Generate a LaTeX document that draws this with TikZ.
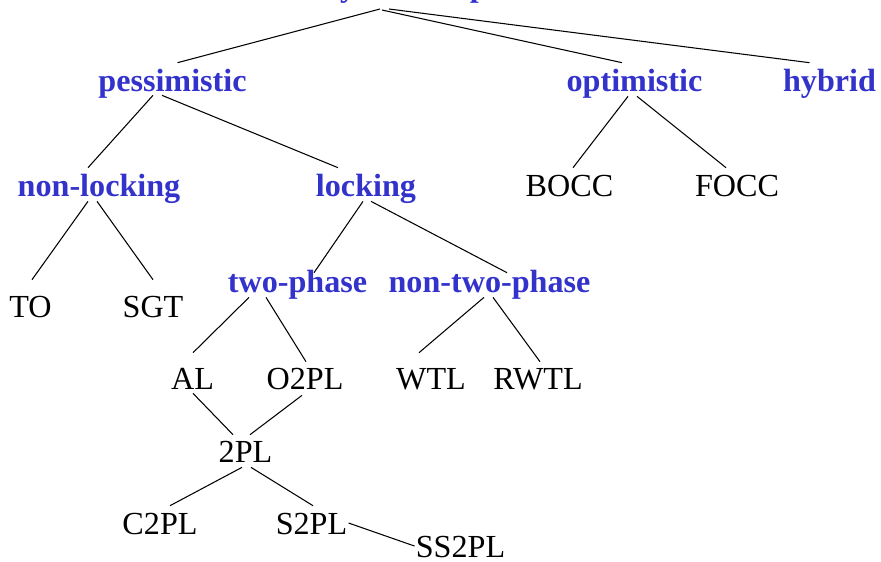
\documentclass[tikz,border=0pt]{standalone}
\usepackage{fontspec}
\setmainfont{Liberation Serif}
\usepackage{tikz}
\definecolor{catblue}{HTML}{3333CC}

\begin{document}
\begin{tikzpicture}[x=0.02cm, y=-0.02cm,
    % every label sits on its baseline, with a fixed height for the anchors
    every node/.style = {
        anchor=base,
        inner sep=0pt,
        text height=12.5pt,
        text depth=0pt,
        font=\fontsize{18.3}{22}\selectfont
    },
    category/.style = {
        text=catblue,
        font=\fontsize{18.3}{22}\selectfont\bfseries
    },
    method/.style = {
        text=black
    },
    branch/.style = {
        draw=black,
        line width=0.6pt
    }
]
\useasboundingbox (0,0) rectangle (881,561);

% root (only its descenders show at the top edge)
\node[category, anchor=base west] (root) at (185,-4) {concurrency control protocols};

% first level
\node[category] (pess) at (172.5,91) {pessimistic};
\node[category] (opt) at (634.5,91) {optimistic};
\node[category] (hyb) at (829.5,91) {hybrid};

% second level
\node[category] (nonlock) at (99,196) {non-locking};
\node[category] (lock) at (366,196) {locking};
\node[method] (bocc) at (569.5,196) {BOCC};
\node[method] (focc) at (737,196) {FOCC};

% under non-locking and locking
\node[method] (to) at (30.5,317) {TO};
\node[method] (sgt) at (153,317) {SGT};
\node[category] (twoph) at (297.5,292) {two-phase};
\node[category] (nontwoph) at (489.5,292) {non-two-phase};

% locking protocols
\node[method] (al) at (192.5,389) {AL};
\node[method] (otpl) at (305,389) {O2PL};
\node[method] (wtl) at (431,389) {WTL};
\node[method] (rwtl) at (538,389) {RWTL};

\node[method] (tpl) at (245.5,462) {2PL};
\node[method] (ctpl) at (160,534) {C2PL};
\node[method] (stpl) at (311.5,534) {S2PL};
\node[method] (sstpl) at (460.5,557) {SS2PL};

% branches
\draw[branch] ([shift={(195,13)}]root.base west) -- ([shift={(5,-6)}]pess.north);
\draw[branch] ([shift={(197,14)}]root.base west) -- ([shift={(-12.5,-6)}]opt.north);
\draw[branch] ([shift={(204,13)}]root.base west) -- ([shift={(-20,-6)}]hyb.north);

\draw[branch] ([shift={(-19.5,4)}]pess.south) -- ([shift={(-11,-6)}]nonlock.north);
\draw[branch] ([shift={(-10.5,4)}]pess.south) -- ([shift={(-28,-6)}]lock.north);
\draw[branch] ([shift={(-6.5,5)}]opt.south) -- ([shift={(3.5,-6)}]bocc.north);
\draw[branch] ([shift={(2.5,5)}]opt.south) -- ([shift={(-11,-6)}]focc.north);

\draw[branch] ([shift={(-11,5)}]nonlock.south) -- ([shift={(1.5,-15)}]to.north);
\draw[branch] ([shift={(-2,5)}]nonlock.south) -- ([shift={(0,-15)}]sgt.north);
\draw[branch] ([shift={(-3,5)}]lock.south) -- ([shift={(16.5,3)}]twoph.north);
\draw[branch] ([shift={(5,5)}]lock.south) -- ([shift={(17.5,3)}]nontwoph.north);

\draw[branch] ([shift={(-48.5,5)}]twoph.south) -- ([shift={(0.5,-14)}]al.north);
\draw[branch] ([shift={(-31.5,5)}]twoph.south) -- ([shift={(1,-5)}]otpl.north);
\draw[branch] ([shift={(-5.5,5)}]nontwoph.south) -- ([shift={(-12,-14)}]wtl.north);
\draw[branch] ([shift={(3.5,5)}]nontwoph.south) -- ([shift={(2,-5)}]rwtl.north);

\draw[branch] ([shift={(0.5,4)}]al.south) -- ([shift={(-12.5,-5)}]tpl.north);
\draw[branch] ([shift={(-3,6)}]otpl.south) -- ([shift={(4.5,-5)}]tpl.north);
\draw[branch] ([shift={(-3.5,5)}]tpl.south) -- ([shift={(10,-6)}]ctpl.north);
\draw[branch] ([shift={(5.5,5)}]tpl.south) -- ([shift={(1.5,-6)}]stpl.north);
\draw[branch] ([shift={(1,0)}]stpl.east) -- ([shift={(-1,0)}]sstpl.west);

\end{tikzpicture}
\end{document}
